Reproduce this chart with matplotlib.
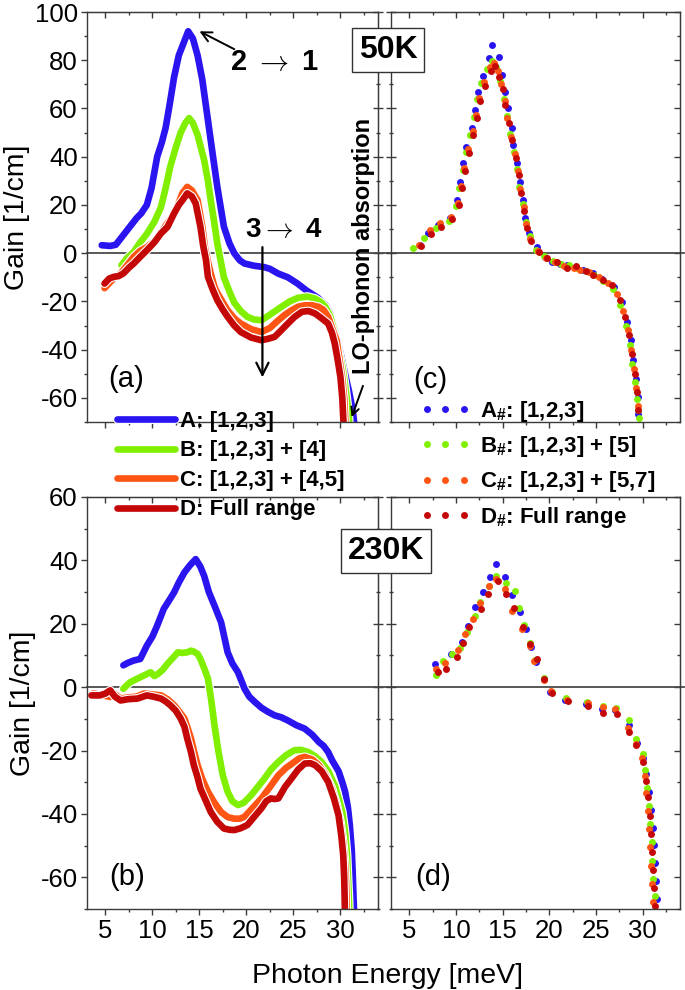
import matplotlib
matplotlib.use('Agg')
import matplotlib.pyplot as plt
import matplotlib.patheffects as pe
from matplotlib.ticker import MultipleLocator

plt.rcParams['font.family'] = ['Liberation Sans', 'DejaVu Sans']
plt.rcParams['mathtext.fontset'] = 'custom'
plt.rcParams['mathtext.rm'] = 'Liberation Sans'
plt.rcParams['mathtext.bf'] = 'Liberation Sans:bold'
plt.rcParams['mathtext.default'] = 'bf'
plt.rcParams['axes.unicode_minus'] = False

# ---------------- data: 50 K, lines (panel a) ----------------
A50_x = [4.6, 5.5, 6.1, 6.8, 7.6, 8.3, 8.8, 9.4, 9.9, 10.5, 11.0, 11.4, 11.8, 12.3, 12.8, 13.3, 13.8, 14.3, 14.8, 15.3, 15.8, 16.3, 16.9, 17.6, 18.2, 18.7, 19.3, 19.8, 20.8, 21.9, 22.5, 23.4, 24.4, 25.4, 26.4, 27.6, 28.4, 28.9, 29.4, 30.1, 30.6, 30.9, 31.2, 31.4, 31.6]
A50_y = [3.3, 3.0, 3.5, 7.0, 11.0, 14.5, 16.5, 20.0, 27.0, 40.0, 46.0, 52.0, 61.0, 73.0, 82.0, 87.0, 92.0, 89.0, 82.0, 72.0, 58.0, 44.0, 27.5, 11.0, 4.0, 0.0, -3.0, -4.3, -5.2, -5.8, -6.5, -8.5, -10.0, -12.5, -15.5, -18.5, -21.5, -25.0, -32.0, -43.0, -52.0, -57.0, -63.0, -68.0, -75.0]
B50_x = [6.7, 7.3, 8.0, 8.7, 9.4, 10.2, 10.9, 11.4, 11.9, 12.5, 13.0, 13.5, 13.9, 14.3, 14.8, 15.2, 15.5, 15.9, 16.2, 16.6, 16.9, 17.3, 17.6, 18.2, 18.7, 19.4, 20.1, 20.8, 21.6, 22.5, 23.7, 24.6, 25.5, 26.5, 27.3, 28.0, 28.4, 28.9, 29.4, 29.8, 30.2, 30.5, 30.7, 30.9, 31.0]
B50_y = [-5.0, -2.0, 0.5, 4.5, 8.0, 13.0, 19.0, 27.0, 36.0, 44.0, 50.0, 54.0, 56.0, 54.0, 49.0, 43.0, 38.6, 30.0, 22.0, 12.0, 4.0, -4.0, -10.0, -16.0, -20.5, -24.0, -26.4, -27.5, -27.8, -25.5, -22.3, -20.0, -18.5, -18.0, -18.8, -20.5, -22.3, -26.0, -33.0, -40.0, -47.0, -55.0, -61.0, -68.0, -75.0]
C50_x = [4.9, 5.5, 6.0, 6.6, 7.3, 8.0, 8.7, 9.4, 10.2, 11.0, 11.6, 12.3, 12.8, 13.2, 13.7, 14.2, 14.8, 15.3, 15.6, 15.9, 16.2, 16.6, 16.9, 17.5, 18.0, 18.7, 19.4, 20.5, 21.6, 22.5, 23.4, 24.1, 24.8, 25.5, 26.2, 27.0, 27.7, 28.2, 28.7, 29.2, 29.6, 29.9, 30.2, 30.4, 30.5, 30.6]
C50_y = [-14.5, -12.0, -10.0, -8.4, -5.0, -1.5, 1.0, 2.5, 5.0, 9.0, 12.5, 16.5, 21.0, 25.0, 27.5, 26.0, 22.0, 11.0, 2.0, -3.5, -8.4, -14.0, -16.5, -20.5, -23.7, -27.0, -29.2, -31.5, -32.7, -31.0, -27.8, -25.5, -23.7, -22.2, -21.6, -21.6, -22.3, -23.5, -26.4, -32.0, -36.1, -44.0, -52.0, -60.0, -68.0, -75.0]
D50_x = [4.9, 5.4, 5.9, 6.4, 6.9, 7.5, 8.0, 8.7, 9.4, 10.2, 10.9, 11.6, 12.3, 12.8, 13.2, 13.7, 14.2, 14.6, 15.1, 15.4, 15.7, 15.9, 16.4, 16.9, 17.5, 18.0, 18.7, 19.4, 20.5, 21.6, 22.3, 23.0, 23.7, 24.4, 25.1, 25.9, 26.6, 27.3, 28.0, 28.7, 29.1, 29.4, 29.7, 30.0, 30.2, 30.3, 30.4]
D50_y = [-12.6, -10.5, -9.8, -9.5, -8.4, -6.0, -4.3, -1.5, 1.2, 4.5, 8.2, 10.9, 16.5, 20.0, 22.0, 24.8, 23.5, 20.6, 11.0, 3.0, -3.0, -9.8, -15.0, -19.5, -23.5, -26.4, -30.0, -32.7, -35.0, -36.1, -35.5, -34.7, -32.0, -29.2, -26.5, -24.3, -24.0, -25.0, -27.0, -29.2, -33.0, -37.5, -44.0, -51.3, -60.0, -68.0, -75.0]

# ---------------- data: 230 K, lines (panel b) ----------------
A230_x = [6.9, 7.4, 8.0, 8.7, 9.4, 10.0, 10.5, 11.2, 11.8, 12.3, 12.8, 13.4, 14.0, 14.6, 15.1, 15.5, 16.0, 16.6, 17.3, 18.0, 18.5, 19.1, 19.8, 20.3, 20.9, 21.6, 22.3, 23.0, 23.7, 24.4, 25.3, 26.2, 27.0, 27.7, 28.2, 28.7, 29.1, 29.4, 29.8, 30.2, 30.5, 30.8, 31.0, 31.2, 31.3, 31.4, 31.5]
A230_y = [6.9, 7.7, 8.4, 8.9, 13.1, 16.0, 19.4, 24.7, 27.5, 29.9, 33.0, 36.2, 38.5, 40.4, 38.0, 35.1, 30.0, 25.7, 20.5, 11.0, 7.5, 4.7, -0.5, -3.0, -4.7, -6.5, -7.8, -8.9, -9.5, -10.5, -12.0, -13.1, -15.0, -17.3, -18.5, -20.5, -23.0, -24.5, -26.5, -30.0, -33.0, -38.0, -43.5, -51.0, -58.0, -66.5, -75.0]
B230_x = [6.9, 7.6, 8.4, 9.1, 9.8, 10.2, 10.6, 11.1, 11.6, 12.1, 12.7, 13.2, 13.7, 14.1, 14.4, 14.8, 15.1, 15.5, 15.9, 16.2, 16.6, 17.0, 17.5, 18.0, 18.5, 19.1, 19.7, 20.5, 21.2, 21.9, 22.6, 23.4, 24.2, 25.1, 25.8, 26.6, 27.3, 28.0, 28.7, 29.4, 29.8, 30.2, 30.5, 30.7, 30.8, 30.9, 31.0]
B230_y = [-0.5, 1.5, 2.7, 3.7, 4.7, 3.5, 4.2, 5.5, 7.4, 9.0, 11.0, 10.8, 11.0, 11.5, 11.2, 10.5, 8.9, 6.0, 2.7, -3.0, -12.0, -20.0, -28.0, -33.0, -36.0, -37.2, -36.5, -34.1, -31.5, -28.9, -26.0, -23.6, -21.5, -19.9, -19.8, -20.5, -21.8, -23.6, -26.5, -31.0, -35.0, -39.4, -46.0, -53.0, -60.0, -66.5, -75.0]
C230_x = [3.7, 4.6, 5.5, 5.9, 6.6, 7.5, 8.3, 9.1, 10.0, 10.9, 11.6, 12.3, 12.8, 13.4, 13.7, 14.1, 14.4, 14.8, 15.3, 15.9, 16.6, 17.3, 18.0, 18.7, 19.3, 19.8, 20.7, 21.6, 22.5, 23.4, 24.2, 25.1, 25.6, 26.2, 27.0, 27.7, 28.4, 29.1, 29.6, 30.0, 30.3, 30.5, 30.6, 30.65, 30.7]
C230_y = [-2.0, -2.5, -3.1, -2.0, -3.6, -3.2, -3.0, -2.0, -2.3, -2.6, -3.8, -5.7, -7.5, -9.9, -12.5, -16.2, -20.0, -24.6, -29.0, -33.0, -36.5, -39.4, -41.0, -41.5, -41.5, -40.9, -38.0, -35.1, -31.5, -27.8, -25.5, -23.6, -22.5, -22.0, -22.8, -24.6, -27.5, -32.0, -37.0, -42.4, -49.0, -56.0, -62.0, -66.5, -75.0]
D230_x = [3.5, 4.4, 5.0, 5.5, 6.0, 6.6, 7.4, 8.4, 9.4, 10.1, 10.9, 11.4, 11.9, 12.5, 13.0, 13.4, 13.7, 14.1, 14.4, 14.8, 15.1, 15.7, 16.2, 16.9, 17.6, 18.2, 18.7, 19.4, 20.1, 20.8, 21.6, 22.1, 22.6, 23.0, 23.4, 24.1, 24.8, 25.5, 26.2, 26.8, 27.3, 28.0, 28.7, 29.3, 29.8, 30.1, 30.3, 30.4, 30.45, 30.5]
D230_y = [-2.6, -2.6, -2.0, -1.0, -3.0, -4.2, -3.8, -3.6, -2.6, -3.0, -3.6, -4.5, -5.7, -7.5, -9.9, -12.5, -16.2, -20.5, -24.6, -28.5, -32.0, -36.0, -39.4, -42.5, -44.6, -45.0, -45.1, -44.5, -43.5, -41.0, -38.2, -36.0, -35.1, -35.3, -35.1, -31.5, -28.8, -26.0, -24.1, -24.0, -24.6, -26.5, -29.9, -35.0, -40.4, -47.0, -53.0, -60.0, -66.5, -75.0]

# ---------------- data: 50 K, dots (panel c) ----------------
A50d_x = [6.1, 7.0, 8.1, 9.4, 10.1, 10.4, 10.8, 11.1, 11.7, 12.0, 12.4, 12.9, 13.5, 13.9, 14.6, 14.9, 15.3, 15.6, 16.0, 16.1, 16.5, 16.9, 17.2, 17.4, 17.8, 18.7, 19.5, 20.3, 21.1, 21.9, 22.9, 23.6, 24.7, 25.6, 26.9, 27.8, 28.3, 28.7, 29.0, 29.3, 29.45, 29.55]
A50d_y = [3.3, 8.2, 11.6, 14.4, 22.0, 29.6, 37.2, 44.1, 51.7, 59.3, 66.9, 73.4, 80.8, 86.3, 81.2, 73.9, 66.9, 60.0, 51.7, 44.8, 37.2, 29.6, 22.0, 14.4, 8.2, 2.4, -1.5, -3.6, -4.3, -5.0, -5.7, -6.8, -8.4, -10.5, -14.0, -20.2, -28.5, -36.1, -44.4, -52.0, -59.6, -66.5]
B50d_x = [5.4, 6.6, 7.9, 9.2, 10.0, 10.3, 10.7, 11.1, 11.5, 11.9, 12.3, 12.7, 13.3, 13.9, 14.3, 14.7, 15.1, 15.5, 15.8, 16.2, 16.5, 16.8, 17.2, 17.5, 17.9, 18.6, 19.4, 20.4, 21.2, 22.1, 23.0, 23.9, 24.8, 25.7, 26.8, 27.6, 28.2, 28.6, 28.9, 29.2, 29.4, 29.5, 29.6]
B50d_y = [2.0, 6.5, 10.5, 13.5, 19.5, 27.0, 34.5, 42.0, 49.0, 56.5, 64.0, 70.5, 76.5, 79.5, 77.0, 71.5, 64.0, 57.0, 49.5, 42.0, 35.0, 27.5, 20.5, 13.0, 7.0, 1.5, -1.0, -3.2, -4.5, -5.0, -6.2, -7.5, -9.0, -11.5, -15.0, -21.5, -30.0, -38.0, -46.0, -53.5, -60.5, -65.0, -68.5]
C50d_x = [6.0, 7.2, 8.3, 9.5, 10.2, 10.5, 10.9, 11.3, 11.8, 12.1, 12.5, 13.0, 13.6, 14.1, 14.5, 14.8, 15.2, 15.5, 15.9, 16.3, 16.6, 16.9, 17.3, 17.5, 17.9, 18.8, 19.6, 20.6, 21.6, 22.6, 23.3, 24.3, 25.3, 26.3, 27.3, 27.9, 28.4, 28.8, 29.1, 29.3, 29.5]
C50d_y = [3.5, 9.5, 12.5, 15.0, 21.0, 28.0, 35.5, 43.0, 50.5, 57.5, 64.5, 71.0, 77.0, 79.0, 75.5, 70.0, 63.0, 56.0, 48.0, 41.0, 34.0, 26.5, 19.0, 12.0, 6.0, 1.0, -2.0, -3.8, -5.5, -6.0, -7.0, -7.8, -10.0, -12.5, -17.0, -24.0, -32.0, -40.0, -48.0, -56.0, -63.5]
D50d_x = [6.2, 7.3, 8.4, 9.6, 10.3, 10.6, 11.0, 11.4, 11.8, 12.2, 12.6, 13.1, 13.7, 14.2, 14.6, 15.0, 15.3, 15.7, 16.0, 16.4, 16.7, 17.0, 17.3, 17.6, 18.0, 18.9, 19.8, 20.8, 21.9, 22.9, 23.9, 24.7, 25.8, 26.7, 27.6, 28.1, 28.5, 28.9, 29.2, 29.35, 29.45]
D50d_y = [3.0, 8.0, 11.0, 14.0, 20.0, 27.0, 34.0, 41.5, 49.0, 56.0, 63.0, 69.5, 75.5, 77.5, 73.0, 68.0, 61.5, 54.0, 47.0, 39.5, 32.5, 25.0, 17.5, 10.5, 5.0, 0.5, -1.8, -3.8, -6.0, -5.5, -7.5, -9.0, -11.0, -13.0, -19.5, -26.5, -34.0, -42.0, -50.0, -57.5, -65.0]

# ---------------- data: 230 K, dots (panel d) ----------------
A230d_x = [7.75, 9.5, 10.6, 11.3, 12.0, 12.9, 13.6, 14.3, 15.25, 16.0, 16.9, 17.5, 18.0, 18.6, 19.4, 20.1, 21.7, 23.9, 25.6, 27.0, 28.5, 29.4, 30.0, 30.4, 30.7, 30.9, 31.1, 31.2, 31.3, 31.4, 31.5]
A230d_y = [7.4, 10.5, 14.2, 19.4, 25.2, 29.9, 34.6, 38.8, 34.6, 29.0, 23.6, 18.2, 12.6, 8.0, 2.7, -1.5, -4.1, -5.2, -6.8, -7.3, -12.0, -17.5, -22.5, -27.5, -33.0, -38.8, -44.5, -49.7, -55.5, -61.3, -66.8]
B230d_x = [7.85, 8.6, 9.6, 10.4, 11.2, 12.0, 12.6, 13.5, 14.3, 15.4, 16.3, 16.7, 17.3, 17.9, 18.5, 19.4, 20.3, 21.8, 24.0, 25.7, 27.1, 28.5, 29.3, 30.0, 30.3, 30.5, 30.7, 30.8, 30.95, 31.05, 31.15, 31.3]
B230d_y = [3.7, 8.4, 10.5, 12.5, 17.5, 22.5, 27.0, 32.0, 35.0, 33.0, 30.4, 25.0, 19.5, 13.8, 8.5, 2.8, -1.5, -3.5, -4.8, -5.8, -6.5, -10.5, -16.5, -21.0, -26.0, -31.7, -37.5, -43.2, -49.0, -54.7, -60.5, -66.0]
C230d_x = [7.9, 8.8, 10.2, 10.95, 11.85, 12.6, 13.5, 14.3, 15.3, 16.05, 17.05, 17.9, 18.4, 19.4, 20.2, 21.9, 24.1, 25.7, 27.0, 28.45, 29.3, 29.9, 30.2, 30.4, 30.6, 30.7, 30.8, 30.9, 31.0, 31.1]
C230d_y = [5.7, 7.5, 11.6, 16.8, 21.5, 26.7, 31.9, 34.1, 31.0, 24.1, 18.4, 13.1, 8.4, 2.2, -1.2, -4.0, -5.0, -6.2, -7.0, -13.0, -18.0, -22.5, -28.0, -33.3, -39.2, -44.8, -50.5, -56.3, -62.0, -67.8]
D230d_x = [8.1, 8.9, 10.1, 10.7, 11.4, 12.65, 13.4, 14.5, 15.4, 16.2, 17.2, 17.9, 18.7, 19.4, 20.3, 22.0, 24.1, 25.8, 27.2, 28.5, 29.3, 30.0, 30.4, 30.6, 30.75, 30.9, 31.0, 31.1, 31.2, 31.3]
D230d_y = [4.8, 5.8, 9.5, 14.0, 18.9, 24.7, 29.3, 33.6, 29.4, 25.0, 19.0, 13.5, 8.9, 2.5, -1.8, -4.4, -6.0, -8.0, -8.5, -14.1, -18.3, -23.5, -29.5, -34.8, -40.5, -46.3, -52.0, -57.8, -63.5, -69.0]

line_labels = ['A: [1,2,3]', 'B: [1,2,3] + [4]', 'C: [1,2,3] + [4,5]', 'D: Full range']
dot_labels = [r'A$_{\#}$: [1,2,3]', r'B$_{\#}$: [1,2,3] + [5]', r'C$_{\#}$: [1,2,3] + [5,7]', r'D$_{\#}$: Full range']
colors = ['#2a14f0', '#80f000', '#ff5514', '#c40808']
xticks = [5, 10, 15, 20, 25, 30]

# ---------------- figure ----------------
W, H = 685, 990
fig = plt.figure(figsize=(W / 100, H / 100), dpi=100)


def rect(x0, y0, x1, y1):
    return [x0 / W, 1 - y1 / H, (x1 - x0) / W, (y1 - y0) / H]


ax_a = fig.add_axes(rect(86.7, 12, 378, 422))
ax_c = fig.add_axes(rect(390.7, 12, 680, 422))
ax_b = fig.add_axes(rect(86.7, 497, 378, 909))
ax_d = fig.add_axes(rect(390.7, 497, 680, 909))

SPC = '#3a3a3a'


def style(ax, ylim, left_dir, right_dir, ylabels, xlabels):
    ax.set_xlim(3, 34)
    ax.set_ylim(*ylim)
    ax.set_xticks(xticks)
    ax.xaxis.set_minor_locator(MultipleLocator(2.5))
    ax.yaxis.set_major_locator(MultipleLocator(20))
    ax.yaxis.set_minor_locator(MultipleLocator(10))
    for s in ax.spines.values():
        s.set_color(SPC)
        s.set_linewidth(1.0)
    ax.tick_params(axis='x', which='both', direction='out', top=False, color=SPC, width=1.0,
                   labelsize=18.5, pad=3, labelbottom=xlabels)
    ax.tick_params(axis='x', which='major', length=4.5)
    ax.tick_params(axis='x', which='minor', length=2.5)
    big = 7 if left_dir == 'inout' else 4.5
    ax.tick_params(axis='y', which='both', direction=left_dir, right=False, color=SPC, width=1.0,
                   labelsize=18.5, pad=2, labelleft=ylabels)
    ax.tick_params(axis='y', which='major', length=big)
    ax.tick_params(axis='y', which='minor', length=big / 2)
    # top ticks (inward)
    sx = ax.secondary_xaxis('top')
    sx.set_xticks(xticks)
    sx.xaxis.set_minor_locator(MultipleLocator(2.5))
    sx.tick_params(which='both', direction='in', labeltop=False, color=SPC, width=1.0)
    sx.tick_params(which='major', length=4.5)
    sx.tick_params(which='minor', length=2.5)
    sx.spines['top'].set_color(SPC)
    # right ticks
    sy = ax.secondary_yaxis('right')
    sy.yaxis.set_major_locator(MultipleLocator(20))
    sy.yaxis.set_minor_locator(MultipleLocator(10))
    rb = 7 if right_dir == 'inout' else 4.5
    sy.tick_params(which='both', direction=right_dir, labelright=False, color=SPC, width=1.0)
    sy.tick_params(which='major', length=rb)
    sy.tick_params(which='minor', length=rb / 2)
    sy.spines['right'].set_color(SPC)


style(ax_a, (-70, 100), 'out', 'inout', True, False)
style(ax_c, (-70, 100), 'inout', 'in', False, False)
style(ax_b, (-70, 60), 'out', 'inout', True, True)
style(ax_d, (-70, 60), 'inout', 'in', False, True)

# zero lines (continuous across the gap)
for ax, xm in [(ax_a, 1.044), (ax_b, 1.044), (ax_c, 1.014), (ax_d, 1.014)]:
    ax.axhline(0, xmin=0, xmax=xm, color='#4a4a4a', lw=1.3, clip_on=False, zorder=1.5)

halo = [pe.Stroke(linewidth=6.4, foreground='white'), pe.Normal()]
lines50 = [(A50_x, A50_y), (B50_x, B50_y), (C50_x, C50_y), (D50_x, D50_y)]
lines230 = [(A230_x, A230_y), (B230_x, B230_y), (C230_x, C230_y), (D230_x, D230_y)]
dots50 = [(A50d_x, A50d_y), (B50d_x, B50d_y), (C50d_x, C50d_y), (D50d_x, D50d_y)]
dots230 = [(A230d_x, A230d_y), (B230d_x, B230d_y), (C230d_x, C230d_y), (D230d_x, D230d_y)]

line_handles = []
for (x, y), c, lab in zip(lines50, colors, line_labels):
    h, = ax_a.plot(x, y, color=c, lw=4.8, solid_capstyle='round', solid_joinstyle='round',
                   path_effects=halo, label=lab, zorder=2)
    line_handles.append(h)
for (x, y), c in zip(lines230, colors):
    ax_b.plot(x, y, color=c, lw=4.8, solid_capstyle='round', solid_joinstyle='round',
              path_effects=halo, zorder=2)

dot_handles = []
for (x, y), c, lab in zip(dots50, colors, dot_labels):
    h, = ax_c.plot(x, y, 'o', color=c, ms=5.0, mew=0, label=lab, zorder=2)
    dot_handles.append(h)
for (x, y), c in zip(dots230, colors):
    ax_d.plot(x, y, 'o', color=c, ms=5.0, mew=0, zorder=2)

# axis labels
ax_a.set_ylabel('Gain [1/cm]', fontsize=20.5, labelpad=3)
ax_b.set_ylabel('Gain [1/cm]', fontsize=20.5, labelpad=3)
fig.text(388 / W, 1 - 983 / H, 'Photon Energy [meV]', ha='center', va='baseline', fontsize=20.5)

# panel letters
ax_a.text(7.2, -52, '(a)', ha='center', va='center', fontsize=21)
ax_c.text(7.2, -52.5, '(c)', ha='center', va='center', fontsize=21)
ax_b.text(7.3, -60, '(b)', ha='center', va='center', fontsize=21)
ax_d.text(7.5, -60, '(d)', ha='center', va='center', fontsize=21)

# annotations in (a)
ax_a.annotate('', xy=(15.0, 92), xytext=(18.7, 84.6),
              arrowprops=dict(arrowstyle='->', lw=1.4, color='black', mutation_scale=18,
                              shrinkA=0, shrinkB=0), zorder=5)
ax_a.text(23.0, 79.3, r'2 $\rightarrow$ 1', ha='center', va='center', fontsize=21,
          fontweight='bold', math_fontfamily='cm')
ax_a.text(24.0, 9.5, r'3$\rightarrow$ 4', ha='center', va='center', fontsize=20,
          fontweight='bold', math_fontfamily='cm')
ax_a.annotate('', xy=(21.7, -51.5), xytext=(21.7, 2.5),
              arrowprops=dict(arrowstyle='->', lw=1.6, color='black', mutation_scale=22,
                              shrinkA=0, shrinkB=0), zorder=5)
ax_a.text(32.5, 2.9, 'LO-phonon absorption', rotation=90, ha='center', va='center',
          fontsize=17, fontweight='bold', zorder=5)
ax_a.annotate('', xy=(31.2, -68), xytext=(32.4, -55),
              arrowprops=dict(arrowstyle='->', lw=1.4, color='black', mutation_scale=14,
                              shrinkA=0, shrinkB=0), zorder=5)

# temperature boxes
box = dict(boxstyle='square,pad=0.22', fc='white', ec='#333333', lw=1.0)
fig.text(388 / W, 1 - 50 / H, '50K', ha='center', va='center', fontsize=23, fontweight='bold', bbox=box)
fig.text(386 / W, 1 - 551 / H, '230K', ha='center', va='center', fontsize=23, fontweight='bold', bbox=box)

# legends
fig.legend(line_handles, line_labels, loc='upper left', bbox_to_anchor=(117 / W, 1 - 411 / H),
           bbox_transform=fig.transFigure, frameon=False, prop=dict(weight='bold', size=16),
           handlelength=2.6, handletextpad=0.25, labelspacing=0.38, borderpad=0, borderaxespad=0)
fig.legend(dot_handles, dot_labels, loc='upper left', bbox_to_anchor=(420 / W, 1 - 399 / H),
           bbox_transform=fig.transFigure, frameon=False, prop=dict(weight='bold', size=16),
           numpoints=3, handlelength=2.27, handletextpad=0.42, labelspacing=0.46,
           borderpad=0, borderaxespad=0)

fig.savefig('out.png', dpi=100)
